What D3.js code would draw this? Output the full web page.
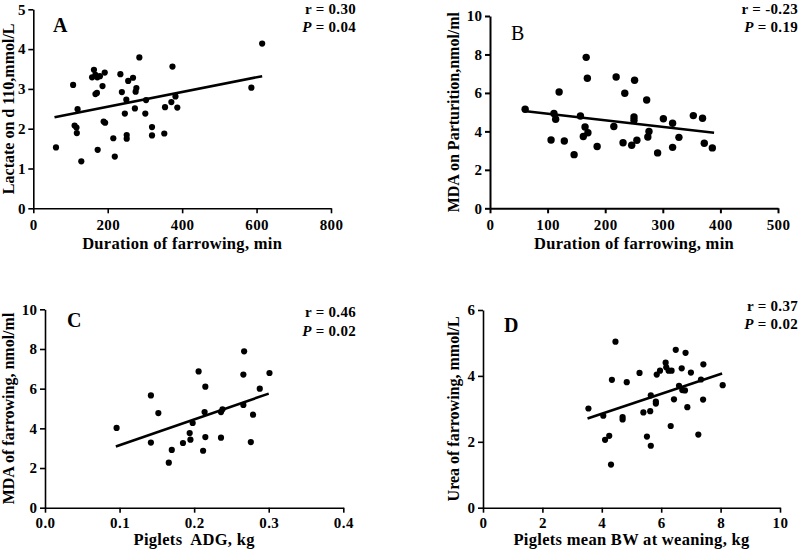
<!DOCTYPE html>
<html><head><meta charset="utf-8">
<script src="https://cdn.jsdelivr.net/npm/d3@7"></script>
<style>
body{margin:0;background:#fff}
svg text{font-family:"Liberation Serif","Times New Roman",serif;font-weight:bold;fill:#000}
</style>
</head><body>
<svg id="chart" width="799" height="553"></svg>
<script>
// ---------- data ----------
const A_x = [61,107,119,111,116,117,129,158,163,167,172,179,192,167,171,186,189,193,173,215,219,234,238,246,250,251,251,255,268,273,275,277,285,301,303,319,319,352,354,371,374,382,387,586,615];
const A_y = [1.53,3.10,2.49,2.08,2.03,1.89,1.18,3.29,3.48,3.35,3.29,3.32,3.41,2.87,2.90,3.07,2.18,2.15,1.47,1.76,1.30,3.37,2.92,2.38,2.73,1.84,1.75,3.20,3.28,2.51,2.93,3.02,3.79,2.38,2.72,2.04,1.83,1.88,2.54,2.67,3.56,2.81,2.53,3.03,4.14];
const A_line_x = [57, 615];
const A_line_y = [2.29, 3.32];

const B_x = [61,111,114,106,120,129,146,157,167,169,165,162,170,186,215,219,231,234,246,250,250,251,255,272,274,276,291,301,317,317,328,353,369,372,386];
const B_y = [5.15,4.93,4.63,3.55,6.05,3.50,2.79,4.80,7.85,6.76,4.23,3.73,3.93,3.21,4.25,6.83,3.41,5.98,3.28,4.75,4.58,6.66,3.54,5.63,3.71,4.00,2.88,4.66,4.42,3.17,3.69,4.82,4.68,3.38,3.14];
const B_line_x = [59, 389];
const B_line_y = [5.06, 3.93];

const C_x = [0.096,0.142,0.142,0.152,0.166,0.170,0.185,0.194,0.195,0.198,0.206,0.212,0.214,0.215,0.215,0.236,0.236,0.238,0.266,0.267,0.266,0.276,0.279,0.288,0.301];
const C_y = [4.02,5.66,3.28,4.77,2.27,2.91,3.26,3.76,3.43,4.27,6.87,2.87,4.82,3.56,6.10,3.53,4.82,4.96,6.71,7.88,5.18,3.31,4.69,6.00,6.79];
const C_line_x = [0.095, 0.300];
const C_line_y = [3.08, 5.75];

const D_x = [3.55,4.05,4.11,4.25,4.31,4.34,4.46,4.70,4.70,4.84,5.27,5.40,5.52,5.65,5.63,5.65,5.82,5.82,5.85,5.96,6.15,6.17,6.25,6.32,6.35,6.43,6.49,6.60,6.69,6.71,6.80,6.82,6.88,7.00,7.25,7.34,7.41,7.42,8.07];
const D_y = [3.01,2.79,2.06,2.18,1.31,3.88,5.04,2.75,2.68,3.81,4.09,2.89,2.16,3.41,2.93,1.88,3.22,3.16,4.04,4.16,4.40,4.26,4.16,2.48,4.16,3.29,4.79,3.70,4.23,3.57,3.56,4.70,3.05,4.10,2.22,3.89,3.28,4.35,3.72];
const D_line_x = [3.52, 8.05];
const D_line_y = [2.71, 4.07];

const xTitles = ["Duration of farrowing, min", "Duration of farrowing, min", "Piglets  ADG, kg", "Piglets mean BW at weaning, kg"];
const yTitles = ["Lactate on d 110,mmol/L", "MDA on Parturition,nmol/ml", "MDA of farrowing, nmol/ml", "Urea of farrowing, mmol/L"];
const panelLetters = ["A", "B", "C", "D"];
const rTexts = ["r = 0.30", "r = -0.23", "r = 0.46", "r = 0.37"];
const pTexts = ["0.04", "0.19", "0.02", "0.02"];
const xDomains = [[0,800],[0,500],[0,0.4],[0,10]];
const yDomains = [[0,5],[0,10],[0,10],[0,6]];
const xTickVals = [[0,200,400,600,800],[0,100,200,300,400,500],[0,0.1,0.2,0.3,0.4],[0,2,4,6,8,10]];
const yTickVals = [[0,1,2,3,4,5],[0,2,4,6,8,10],[0,2,4,6,8,10],[0,2,4,6]];

// ---------- layout ----------
const layout = [
  {x0:33.3, x1:331, y0:208.3, y1:9.3, ytx:13.5, xtPad:6.3, xtitY:41, rX:356, rY:14, pY:32, lx:53, ly:32, bold:true, r:3.1, sw:1.6},
  {x0:490, x1:778, y0:208.3, y1:16, ytx:459, xtPad:6.3, xtitY:41, rX:798, rY:14, pY:32, lx:511, ly:40, bold:false, r:3.7, sw:2},
  {x0:45, x1:343.3, y0:507.7, y1:309.3, ytx:13.5, xtPad:4.3, xtitY:37.5, rX:356, rY:317, pY:336, lx:67, ly:327, bold:true, r:3.1, sw:1.6},
  {x0:483, x1:780, y0:507.7, y1:310, ytx:459, xtPad:4.3, xtitY:37, rX:798, rY:311, pY:329, lx:504, ly:332, bold:true, r:3.1, sw:1.6}
];
const xs = [A_x, B_x, C_x, D_x], ys = [A_y, B_y, C_y, D_y];
const lxs = [A_line_x, B_line_x, C_line_x, D_line_x], lys = [A_line_y, B_line_y, C_line_y, D_line_y];

const svg = d3.select("#chart");

layout.forEach((L, i) => {
  const g = svg.append("g");
  const x = d3.scaleLinear().domain(xDomains[i]).range([L.x0, L.x1]);
  const y = d3.scaleLinear().domain(yDomains[i]).range([L.y0, L.y1]);
  const fmt = i === 2 ? d3.format(".1f") : d3.format("d");

  const xa = g.append("g").attr("transform", `translate(0,${L.y0})`)
    .call(d3.axisBottom(x).tickValues(xTickVals[i]).tickFormat(fmt).tickSize(5).tickSizeOuter(0).tickPadding(L.xtPad));
  const ya = g.append("g").attr("transform", `translate(${L.x0},0)`)
    .call(d3.axisLeft(y).tickValues(yTickVals[i]).tickFormat(d3.format("d")).tickSize(5).tickSizeOuter(0).tickPadding(2.5));
  [xa, ya].forEach(a => {
    a.selectAll("path,line").attr("stroke", "#000").attr("stroke-width", L.sw);
    a.selectAll("text").style("font-size", "15px").style("letter-spacing", "0.4px").attr("fill", "#000");
  });

  // points
  g.selectAll("circle").data(xs[i].map((v, k) => [v, ys[i][k]])).enter().append("circle")
    .attr("cx", d => x(d[0])).attr("cy", d => y(d[1])).attr("r", L.r).attr("fill", "#000");

  // regression line
  g.append("line")
    .attr("x1", x(lxs[i][0])).attr("y1", y(lys[i][0]))
    .attr("x2", x(lxs[i][1])).attr("y2", y(lys[i][1]))
    .attr("stroke", "#000").attr("stroke-width", 2.6);

  // axis titles
  g.append("text").attr("x", (L.x0 + L.x1) / 2).attr("y", L.y0 + L.xtitY)
    .attr("text-anchor", "middle").style("font-size", "16.5px").style("letter-spacing", "0.3px")
    .style("white-space", "pre").attr("xml:space", "preserve").text(xTitles[i]);
  g.append("text").attr("transform", `translate(${L.ytx},${(L.y0 + L.y1) / 2}) rotate(-90)`)
    .attr("text-anchor", "middle").style("font-size", "16px").text(yTitles[i]);

  // panel letter
  g.append("text").attr("x", L.lx).attr("y", L.ly).style("font-size", "20px")
    .style("font-weight", L.bold ? "bold" : "normal").text(panelLetters[i]);

  // stats
  g.append("text").attr("x", L.rX).attr("y", L.rY).attr("text-anchor", "end")
    .style("font-size", "15px").style("letter-spacing", "0.3px").text(rTexts[i]);
  const pt = g.append("text").attr("x", L.rX).attr("y", L.pY).attr("text-anchor", "end")
    .style("font-size", "15px").style("letter-spacing", "0.3px");
  pt.append("tspan").style("font-style", "italic").text("P");
  pt.append("tspan").text(" = " + pTexts[i]);
});
</script>
</body></html>
